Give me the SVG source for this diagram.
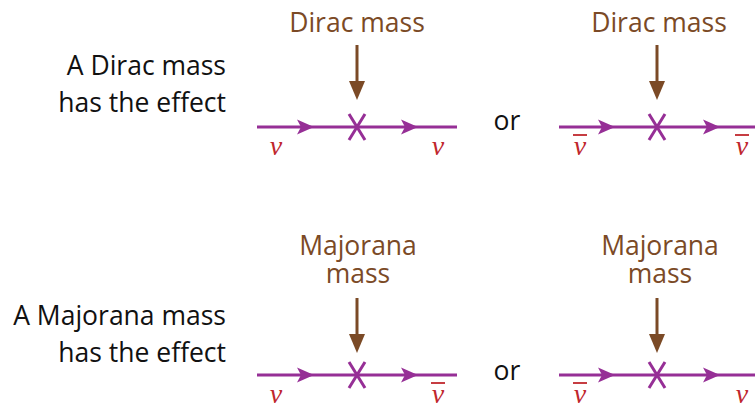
<svg xmlns="http://www.w3.org/2000/svg" width="755" height="405" viewBox="0 0 755 405">
<style>
.lbl{font-family:"Open Sans","Liberation Sans",sans-serif;font-size:26.5px;fill:#111}
.mass{font-family:"Open Sans","Liberation Sans",sans-serif;font-size:26.5px;fill:#7b4a26;text-anchor:middle}
.nu{font-family:"Liberation Serif",serif;font-style:italic;font-size:28px;fill:#c0272d;text-anchor:middle}
.bar{stroke:#c0272d;stroke-width:1.8}
.prop{stroke:#962f96;stroke-width:3;fill:none}
.xm{stroke:#962f96;stroke-width:3;fill:none}
.head{fill:#962f96}
.shaft{stroke:#7b4a26;stroke-width:3}
.bhead{fill:#7b4a26}
</style>
<defs>
<path id="ah" d="M-17,-7.5 L0,0 L-17,7.5 L-13,0 Z" class="head"/>
<g id="xmark"><path d="M-8,-13 L8,13 M8,-13 L-8,13" class="xm"/></g>
<g id="down"><line x1="0" y1="0" x2="0" y2="40" class="shaft"/><path d="M-8,36 L8,36 L0,55 Z" class="bhead"/></g>
</defs>
<g id="text-left">
<text class="lbl" x="226" y="75" text-anchor="end">A Dirac mass</text>
<text class="lbl" x="226" y="112" text-anchor="end">has the effect</text>
<text class="lbl" x="226" y="325" text-anchor="end">A Majorana mass</text>
<text class="lbl" x="226" y="362" text-anchor="end">has the effect</text>
</g>
<g id="or-labels">
<text class="lbl" x="507" y="130" text-anchor="middle">or</text>
<text class="lbl" x="507" y="380" text-anchor="middle">or</text>
</g>
<g id="node-dirac-1">
<text class="mass" x="357" y="32">Dirac mass</text>
<use href="#xmark" x="357" y="127"/>
</g>
<g id="node-dirac-2">
<text class="mass" x="659" y="32">Dirac mass</text>
<use href="#xmark" x="657" y="127"/>
</g>
<g id="node-majorana-1">
<text class="mass" x="358" y="255">Majorana</text>
<text class="mass" x="358" y="283">mass</text>
<use href="#xmark" x="357" y="375"/>
</g>
<g id="node-majorana-2">
<text class="mass" x="660" y="255">Majorana</text>
<text class="mass" x="660" y="283">mass</text>
<use href="#xmark" x="657" y="375"/>
</g>
<g id="connectors">
<use href="#down" x="357" y="45"/>
<use href="#down" x="657" y="45"/>
<use href="#down" x="357" y="298"/>
<use href="#down" x="657" y="298"/>
<line x1="257" y1="127" x2="457" y2="127" class="prop"/>
<use href="#ah" x="314" y="127"/><use href="#ah" x="418" y="127"/>
<line x1="559" y1="127" x2="755" y2="127" class="prop"/>
<use href="#ah" x="615" y="127"/><use href="#ah" x="720" y="127"/>
<line x1="257" y1="375" x2="457" y2="375" class="prop"/>
<use href="#ah" x="314" y="375"/><use href="#ah" x="418" y="375"/>
<line x1="559" y1="375" x2="755" y2="375" class="prop"/>
<use href="#ah" x="615" y="375"/><use href="#ah" x="720" y="375"/>
</g>
<g id="particle-labels">
<text class="nu" x="276" y="155">ν</text>
<text class="nu" x="438" y="155">ν</text>
<text class="nu" x="580" y="155">ν</text><line class="bar" x1="573" y1="135" x2="587" y2="135"/>
<text class="nu" x="742" y="155">ν</text><line class="bar" x1="735" y1="135" x2="749" y2="135"/>
<text class="nu" x="276" y="403">ν</text>
<text class="nu" x="438" y="403">ν</text><line class="bar" x1="431" y1="383" x2="445" y2="383"/>
<text class="nu" x="580" y="403">ν</text><line class="bar" x1="573" y1="383" x2="587" y2="383"/>
<text class="nu" x="742" y="403">ν</text>
</g>
</svg>
